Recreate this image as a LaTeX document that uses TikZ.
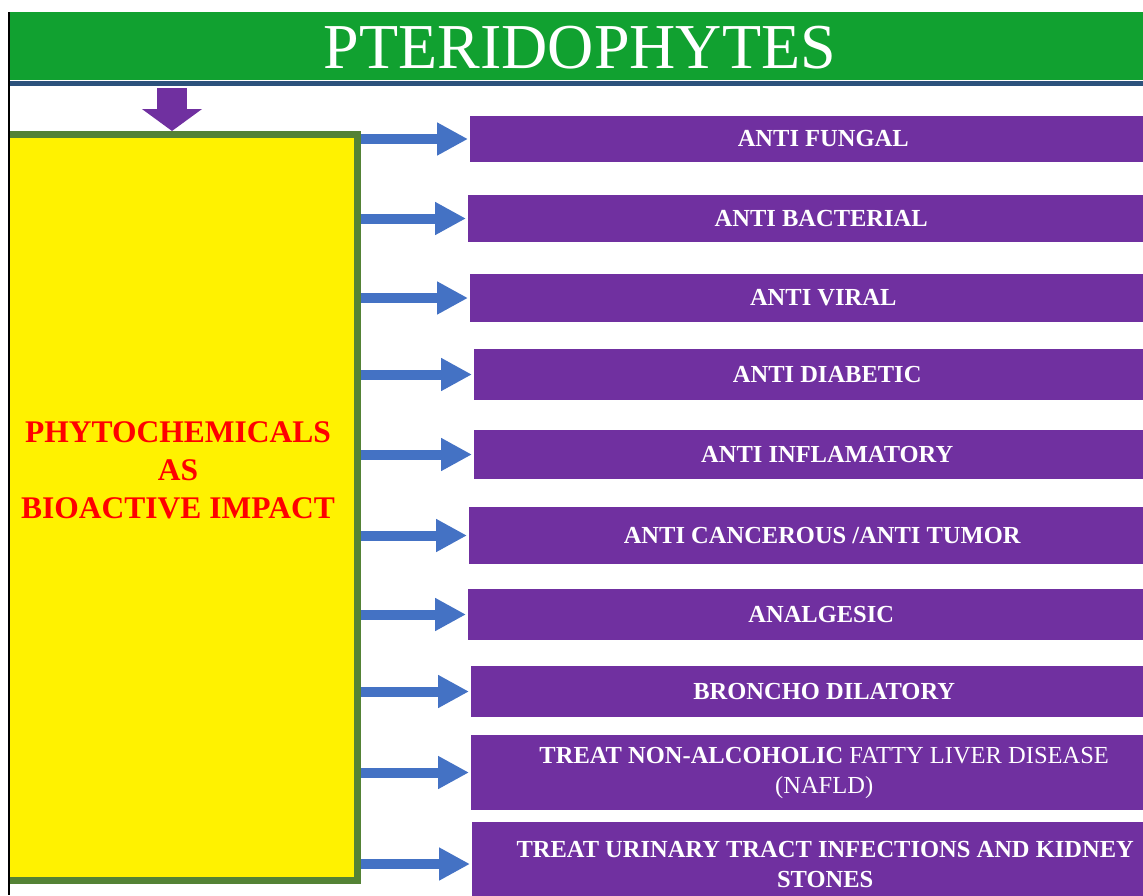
\documentclass[tikz,border=0pt]{standalone}
\usepackage{fontspec}
\setmainfont{Liberation Serif}
\usetikzlibrary{positioning}
\usetikzlibrary{arrows.meta}

\definecolor{bannergreen}{RGB}{17,161,48}
\definecolor{bannerblue}{RGB}{44,82,124}
\definecolor{boxpurple}{RGB}{112,48,160}
\definecolor{arrowblue}{RGB}{68,114,196}
\definecolor{edgegreen}{RGB}{84,130,53}

\begin{document}
\begin{tikzpicture}[x=1pt, y=-1pt,
            purplesquarednode/.style={rectangle, fill=boxpurple, anchor=west, minimum width=706pt, inner sep=0pt, text=white, align=center, font=\fontsize{24.5}{30}\selectfont\bfseries},
            yellowsquarednode/.style={rectangle, fill=yellow, draw=edgegreen, line width=7pt, inner sep=0pt, anchor=north west},
            bluearrow/.style={-{Triangle[length=31pt, width=31pt]}, line width=10pt, arrowblue, shorten >=2pt},
            purplearrow/.style={-{Triangle[length=22pt, width=59pt]}, line width=30pt, boxpurple},
            ]
            \useasboundingbox (0,0) rectangle (1143,895);
            \begin{scope}
            \clip (9,0) rectangle (1143,895);
            \node[fill=bannergreen, minimum width=1150pt, minimum height=68pt, inner sep=0pt, anchor=north west] (banner) at (9,12) {};
            \node[fill=bannerblue, minimum width=1150pt, minimum height=5pt, inner sep=0pt, below=0pt of banner] (bar) {};
            \node[text=white, font=\fontsize{64}{64}\selectfont] (title) at (580,48) {PTERIDOPHYTES};

            \node[yellowsquarednode, minimum width=362.5pt, minimum height=746pt] (phyto) at (-8.5,131) {};
            \node[text=red, align=center, font=\fontsize{31.5}{38}\selectfont\bfseries] (phytolabel) at (178,470) {PHYTOCHEMICALS\\AS\\BIOACTIVE IMPACT};

            \node[purplesquarednode, minimum height=46pt] (fungal) at (470,139) {ANTI FUNGAL};
            \node[purplesquarednode, minimum height=47pt] (bacterial) at (468,218.5) {ANTI BACTERIAL};
            \node[purplesquarednode, minimum height=48pt] (viral) at (470,298) {ANTI VIRAL};
            \node[purplesquarednode, minimum height=51pt] (diabetic) at (474,374.5) {ANTI DIABETIC};
            \node[purplesquarednode, minimum height=49pt] (inflam) at (474,454.5) {ANTI INFLAMATORY};
            \node[purplesquarednode, minimum height=57pt] (cancer) at (469,535.5) {ANTI CANCEROUS /ANTI TUMOR};
            \node[purplesquarednode, minimum height=51pt] (analgesic) at (468,614.5) {ANALGESIC};
            \node[purplesquarednode, minimum height=51pt] (broncho) at (471,691.5) {BRONCHO DILATORY};
            \node[purplesquarednode, minimum height=75pt, font=\fontsize{24.5}{30}\selectfont] (nafld) at (471,772.5) {\textbf{TREAT NON-ALCOHOLIC} FATTY LIVER DISEASE\\(NAFLD)};
            \node[purplesquarednode, minimum height=84pt] (urinary) at (472,864) {TREAT URINARY TRACT INFECTIONS AND KIDNEY\\STONES};

            \coordinate (dropstart) at (172,88);
            \draw[purplearrow] (dropstart) -- (dropstart |- phyto.north);

            \draw[bluearrow] (phyto.east |- fungal.west) -- (fungal.west);
            \draw[bluearrow] (phyto.east |- bacterial.west) -- (bacterial.west);
            \draw[bluearrow] (phyto.east |- viral.west) -- (viral.west);
            \draw[bluearrow] (phyto.east |- diabetic.west) -- (diabetic.west);
            \draw[bluearrow] (phyto.east |- inflam.west) -- (inflam.west);
            \draw[bluearrow] (phyto.east |- cancer.west) -- (cancer.west);
            \draw[bluearrow] (phyto.east |- analgesic.west) -- (analgesic.west);
            \draw[bluearrow] (phyto.east |- broncho.west) -- (broncho.west);
            \draw[bluearrow] (phyto.east |- nafld.west) -- (nafld.west);
            \draw[bluearrow] (phyto.east |- urinary.west) -- (urinary.west);
            \end{scope}
            \draw[line width=1.2pt] (banner.north west) -- (banner.north west |- 0,895);
        \end{tikzpicture}
\end{document}
